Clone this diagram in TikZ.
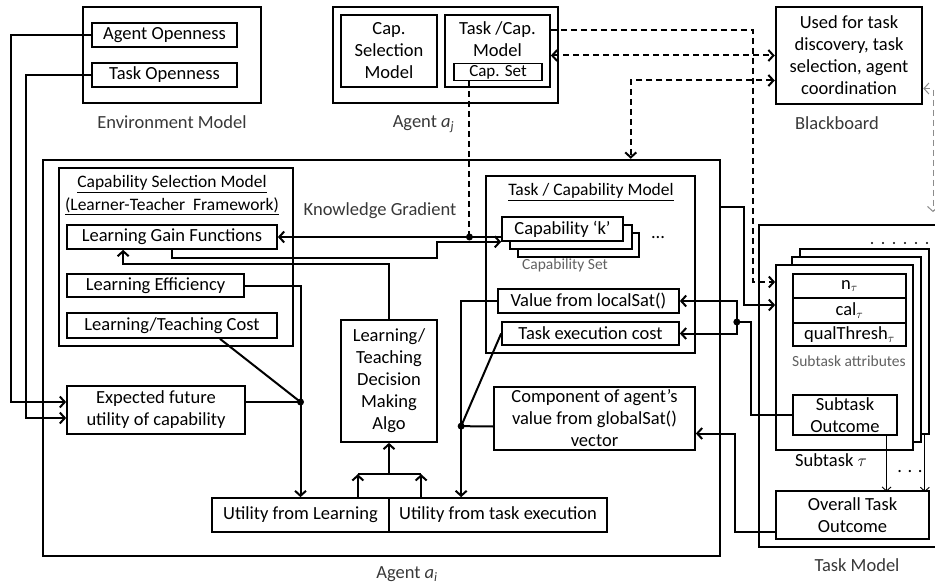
\documentclass[tikz,border=0pt]{standalone}
\usepackage{fontspec}
\setmainfont{Carlito}
\usetikzlibrary{arrows.meta,calc,positioning}
\tikzset{
  bt/.tip={Straight Barb[length=5pt,width=11pt]},
  cbox/.style={draw, line width=1.7pt, inner sep=1pt, align=center},
  thinbox/.style={draw, line width=1.1pt, inner sep=0pt, align=center},
  outerbox/.style={draw, line width=2.5pt, align=center},
  lbl/.style={text=black!78, inner sep=0pt},
  smalllbl/.style={font=\fontsize{15.5}{18}\selectfont, text=black!62, inner sep=0pt},
  title/.style={font=\fontsize{17.5}{20}\selectfont, inner sep=0pt},
  wire/.style={line width=2pt},
  arr/.style={wire, -bt},
  thinarr/.style={line width=0.9pt, -{Straight Barb[length=4pt,width=9pt]}},
  dline/.style={line width=2pt, dash pattern=on 6pt off 4pt},
  jdot/.style={circle, fill, inner sep=0pt, minimum size=7pt}
}
\begin{document}
\begin{tikzpicture}[x=1pt,y=-1pt,font=\fontsize{18.5}{22}\selectfont]
\useasboundingbox (0,0) rectangle (935,586);

% environment model
\node[outerbox, minimum width=178, minimum height=96] (env) at (172,55) {};
\node[cbox, minimum width=145, minimum height=24] (agentOpen) at (164.5,35) {Agent Openness};
\node[cbox, minimum width=145, minimum height=24] (taskOpen) at (164.5,75) {Task Openness};
\node[lbl, below=11pt of env] (envLbl) {Environment Model};

% agent a_j
\node[outerbox, minimum width=225, minimum height=96] (aj) at (445.5,55) {};
\node[cbox, minimum width=96, minimum height=72] (capSel) at (389,51) {Cap.\\Selection\\Model};
\node[cbox, minimum width=105, minimum height=72] (taskCap) at (497.5,51) {};
\node[inner sep=0pt, align=center] (taskCapTxt) at (497.5,39.5) {Task /Cap.\\Model};
\node[thinbox, minimum width=88, minimum height=17, font=\fontsize{17}{20}\selectfont] (capSet) at (498,72) {Cap. Set};
\node[lbl, below=11pt of aj, xshift=-22pt] (ajLbl) {Agent \textit{a}\textsubscript{\textit{j}}};

% blackboard
\node[outerbox, minimum width=146, minimum height=97] (bb) at (849,55.5) {Used for task\\discovery, task\\selection, agent\\coordination};
\node[lbl, below=11pt of bb, xshift=-12pt] (bbLbl) {Blackboard};

% agent a_i
\node[outerbox, minimum width=677, minimum height=396] (ai) at (381.5,358) {};
\node[lbl, below=9pt of ai, xshift=25.5pt] (aiLbl) {Agent \textit{a}\textsubscript{\textit{i}}};

% capability selection model
\node[cbox, minimum width=234, minimum height=178] (csm) at (176,257) {};
\node[title] (csmTitle) at (172,184) {\underline{Capability Selection Model}};
\node[title] (csmSub) at (172,206) {\underline{(Learner-Teacher\ \ Framework)}};
\node[cbox, minimum width=210, minimum height=24] (lgf) at (172,237) {Learning Gain Functions};
\node[cbox, minimum width=177, minimum height=23] (leff) at (155.5,285.5) {Learning Efficiency};
\node[cbox, minimum width=210, minimum height=25] (ltc) at (172,325.5) {Learning/Teaching Cost};
\node[lbl] (kgLbl) at (380,211) {Knowledge Gradient};

\node[cbox, minimum width=178, minimum height=48] (expUtil) at (156,410) {Expected future\\utility of capability};
\node[cbox, minimum width=96, minimum height=122] (decision) at (389,381) {Learning/\\Teaching\\Decision\\Making\\Algo};
\node[cbox, minimum width=177, minimum height=34] (uLearn) at (300.5,515) {Utility from Learning};
\node[cbox, minimum width=218, minimum height=34] (uTask) at (498,515) {Utility\ from task execution};

% task / capability model
\node[cbox, minimum width=209, minimum height=177] (tcm) at (590.5,264.5) {};
\node[title] (tcmTitle) at (591,192) {\underline{Task / Capability Model}};
\node[cbox, fill=white, minimum width=121, minimum height=24] (capK3) at (578.5,245) {};
\node[cbox, fill=white, minimum width=122, minimum height=24] (capK2) at (571,237) {};
\node[cbox, fill=white, minimum width=121, minimum height=24] (capK) at (562.5,229) {Capability `k'};
\node[inner sep=0pt] (capDots) at (658,238) {...};
\node[smalllbl] (capSetLbl) at (565,265) {Capability Set};
\node[cbox, minimum width=181, minimum height=24] (localSat) at (588.5,301) {Value from localSat()};
\node[cbox, minimum width=177, minimum height=23] (execCost) at (590.5,333.5) {Task execution cost};
\node[cbox, minimum width=201, minimum height=63, inner sep=0pt] (component) at (594.5,418.5) {Component of agent's\\value from globalSat()\\vector};

% task model
\node[cbox, minimum width=200, minimum height=322] (tm) at (859,386) {};
\node[lbl] (tmLbl) at (857,565) {Task Model};
\node[cbox, fill=white, minimum width=129, minimum height=185] (sub3) at (864.5,341.5) {};
\node[cbox, fill=white, minimum width=129, minimum height=185] (sub2) at (856.5,349.5) {};
\node[cbox, fill=white, minimum width=137, minimum height=185] (sub1) at (844.5,357.5) {};
\foreach \x in {872,883,...,928} \fill (\x,243) circle (1.1pt);
\node[thinbox, minimum width=113, minimum height=24] (attrN) at (849.5,286) {n\textsubscript{$\tau$}};
\node[thinbox, minimum width=113, minimum height=25] (attrCal) at (849.5,310.5) {cal\textsubscript{$\tau$}};
\node[thinbox, minimum width=113, minimum height=23] (attrQual) at (849.5,334.5) {qualThresh\textsubscript{$\tau$}};
\node[smalllbl] (attrLbl) at (849,361) {Subtask attributes};
\node[thinbox, minimum width=104, minimum height=40] (subOut) at (845,415) {Subtask\\Outcome};
\node[inner sep=0pt] (subLbl) at (831,460) {Subtask $\tau$};
\node[cbox, minimum width=153, minimum height=48] (overall) at (852.5,515) {Overall Task\\Outcome};
\node[inner sep=0pt] (subDots) at (910,472) {. . .};

% openness into expected utility
\draw[arr] (agentOpen.west) -- ++(-80,0) |- ($(expUtil.west)+(0,-8)$);
\draw[arr] (taskOpen.west) -- ++(-65,0) |- ($(expUtil.west)+(0,8)$);

% knowledge gradient
\coordinate (kgDot) at ($(capSet.south west)+(16,0)$);
\draw[dline] (kgDot) -- (kgDot |- lgf.east);
\draw[arr] (capK.west |- lgf.east) -- (lgf.east);
\node[jdot] (kgJ) at (kgDot |- lgf.east) {};
\draw[arr] (lgf.south) -- ++(0,8) -| ($(capK.south west)+(-64,0)$) -- (capK.south west);
\draw[arr] (decision.north) -- ++(0,-55) -| ($(lgf.south west)+(57,0)$);

% towards utility from learning
\coordinate (jLearn) at (uLearn.north |- 0,402);
\draw[arr] (leff.east) -| (uLearn.north);
\draw[wire] ($(expUtil.east)+(0,-8)$) -- (jLearn);
\draw[wire] ($(ltc.south)+(48,0)$) -- (jLearn);
\node[jdot] (jLearnDot) at (jLearn) {};

% utilities into decision algo
\coordinate (uLtop) at ($(uLearn.north east)+(-32,-23)$);
\draw[arr] ($(uLearn.north east)+(-32,0)$) -- (uLtop);
\draw[arr] ($(uTask.north west)+(33,0)$) -- ++(0,-23) coordinate (uTtop);
\draw[wire] (uLtop) -- (uTtop);
\draw[arr] (decision.south |- uLtop) -- (decision.south);

% towards utility from task execution
\coordinate (jTask) at ($(uTask.north west)+(73,-71)$);
\draw[arr] (localSat.west) -| ($(uTask.north west)+(73,0)$);
\draw[wire] ($(component.west)+(0,8)$) -- (jTask);
\draw[wire] (execCost.west) -- (jTask);
\node[jdot] (jTaskDot) at (jTask) {};

% subtask outcome back to local values
\coordinate (jSat) at ($(localSat.east)+(57,21)$);
\draw[wire] (subOut.west) -- ++(-41,0) |- (jSat);
\draw[arr] (jSat) |- (localSat.east);
\draw[arr] (jSat) |- (execCost.east);
\node[jdot] (jSatDot) at (jSat) {};
\draw[arr] ($(overall.west)+(0,17)$) -- ++(-40,0) |- ($(component.east)+(0,15)$);
\draw[arr] ($(ai.north east)+(0,48)$) -- ++(23,0) |- ($(sub1.west)+(0,-52.5)$);

% subtask outcomes into overall outcome
\draw[thinarr] ($(subOut.south east)+(-11,0)$) -- ($(subOut.south east)+(-11,56)$);
\draw[thinarr] ($(sub3.south east)+(-5,0)$) -- ($(sub3.south east)+(-5,57)$);

% blackboard links
\draw[dline, -bt] ($(taskCap.east)+(0,-21)$) -- ++(202,0) |- ($(sub1.west)+(0,-75.5)$);
\draw[dline, bt-bt] (taskCap.east |- bb.west) -- (bb.west);
\draw[dline, bt-bt] ($(bb.west)+(0,25)$) -| ($(ai.north west)+(589,0)$);
\draw[dline, black!45, line width=1pt, bt-bt] ($(bb.east)+(0,33)$) -| ($(tm.north)+(74,-12)$);
\end{tikzpicture}
\end{document}
